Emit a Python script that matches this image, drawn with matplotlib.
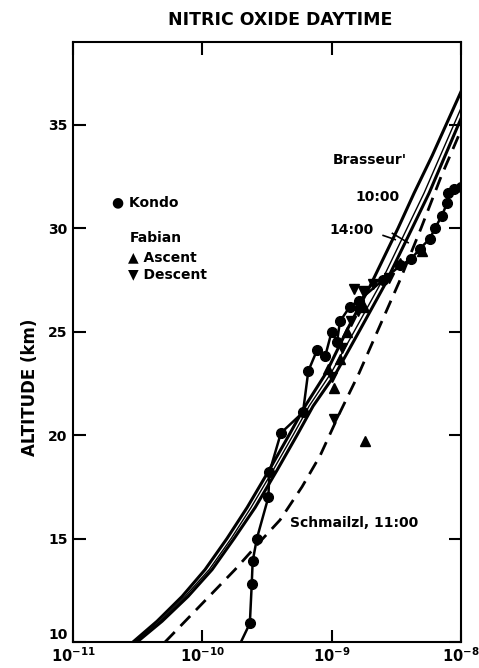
import matplotlib
matplotlib.use("Agg")
import matplotlib.pyplot as plt

plt.rcParams['font.family'] = ['DejaVu Sans']
plt.rcParams['font.weight'] = 'bold'
plt.rcParams['mathtext.default'] = 'bf'

# Brasseur model profiles (altitude km, NO mixing ratio)
b10_alt = [10, 11, 12.2, 13.5, 15, 16.5, 18.3, 20, 21.4, 23, 25.1, 27.2, 30, 31.7, 33.5, 36.6]
b10_x = [2.91e-11, 4.46e-11, 6.97e-11, 1.05e-10, 1.55e-10, 2.22e-10, 3.28e-10, 4.68e-10,
         6.23e-10, 9.05e-10, 1.32e-9, 1.98e-9, 3.26e-9, 4.34e-9, 5.98e-9, 1.0e-8]
thin_alt = [10, 11, 12.2, 13.5, 15, 16.5, 18.3, 20, 21.4, 23, 25.1, 27.2, 30, 31.7, 35.8]
thin_x = [3.02e-11, 4.71e-11, 7.35e-11, 1.13e-10, 1.67e-10, 2.38e-10, 3.52e-10, 5.03e-10,
          6.69e-10, 9.89e-10, 1.52e-9, 2.33e-9, 3.83e-9, 5.18e-9, 1.0e-8]
b14_alt = [10, 11, 12.2, 13.5, 15, 16.5, 18.3, 20, 21.4, 23, 25.1, 27.2, 30, 31.7, 35.3]
b14_x = [3.13e-11, 4.88e-11, 7.75e-11, 1.19e-10, 1.76e-10, 2.56e-10, 3.78e-10, 5.40e-10,
         7.18e-10, 1.08e-9, 1.66e-9, 2.54e-9, 4.19e-9, 5.67e-9, 1.0e-8]

# Schmailzl 11:00 (dashed)
sch_alt = [10, 11.4, 13.5, 14.9, 15.9, 17.5, 19, 21.1, 23, 25.1, 27.5, 30, 32.5, 34.3, 35]
sch_x = [5.15e-11, 8.48e-11, 1.79e-10, 2.84e-10, 3.99e-10, 5.90e-10, 8.13e-10, 1.16e-9,
         1.63e-9, 2.29e-9, 3.38e-9, 4.91e-9, 7.02e-9, 9.33e-9, 1.04e-8]

# Kondo measurements
kondo_alt = [9.5, 10.9, 12.8, 13.9, 15.0, 17.0, 18.2, 20.1, 21.1, 23.1, 24.1, 23.8, 25.0, 24.5,
             25.5, 26.2, 26.5, 27.5, 28.2, 28.5, 29.0, 29.5, 30.0, 30.6, 31.2, 31.7, 31.9, 32.0]
kondo_x = [1.82e-10, 2.33e-10, 2.41e-10, 2.45e-10, 2.64e-10, 3.24e-10, 3.3e-10, 4.05e-10, 6.0e-10,
           6.6e-10, 7.7e-10, 8.9e-10, 1.0e-9, 1.1e-9, 1.16e-9, 1.38e-9, 1.62e-9, 2.5e-9, 3.4e-9,
           4.1e-9, 4.8e-9, 5.75e-9, 6.3e-9, 7.1e-9, 7.8e-9, 7.9e-9, 8.9e-9, 1.0e-8]

# Fabian balloon data
asc_alt = [19.7, 22.3, 23.2, 23.7, 25.0, 26.2, 28.3, 28.9]
asc_x = [1.82e-9, 1.05e-9, 9.3e-10, 1.15e-9, 1.32e-9, 1.78e-9, 3.4e-9, 5.0e-9]
desc_alt = [20.8, 22.8, 24.2, 25.5, 26.0, 27.05, 26.96, 27.3, 27.6]
desc_x = [1.05e-9, 1.0e-9, 1.2e-9, 1.4e-9, 1.6e-9, 1.48e-9, 1.74e-9, 2.1e-9, 2.8e-9]

yticks = [10, 15, 20, 25, 30, 35]
xticks = [1e-11, 1e-10, 1e-9, 1e-8]
xlabels = ['$10^{-11}$', '$10^{-10}$', '$10^{-9}$', '$10^{-8}$']

fig = plt.figure(figsize=(4.79, 6.68), dpi=100)
ax = fig.add_axes([73 / 479, 26 / 668, 388 / 479, 600 / 668])

ax.plot(b10_x, b10_alt, color='black', lw=2.2)
ax.plot(thin_x, thin_alt, color='black', lw=1.0)
ax.plot(b14_x, b14_alt, color='black', lw=2.2)
ax.plot(sch_x, sch_alt, color='black', lw=2.0, dashes=(5, 3))
ax.plot(kondo_x, kondo_alt, color='black', lw=1.8, marker='o', ms=7)
ax.plot(asc_x, asc_alt, ls='none', color='black', marker='^', ms=7)
ax.plot(desc_x, desc_alt, ls='none', color='black', marker='v', ms=7)

ax.set_xscale('log')
ax.set_xlim(1e-11, 1e-8)
ax.set_ylim(10, 39)
ax.set_xticks(xticks)
ax.set_xticklabels(xlabels)
ax.set_yticks(yticks)
ax.minorticks_off()
ax.tick_params(direction='in', length=9, width=1.5, top=True, right=True,
               labelsize=10, pad=4)
ax.tick_params(axis='x', labelsize=10.5, pad=3)
ax.yaxis.get_major_ticks()[0].label1.set_verticalalignment('bottom')
for s in ax.spines.values():
    s.set_linewidth(1.5)

tk = dict(fontsize=10, fontweight='bold', transform=ax.transAxes, va='center')
ax.text(0.10, 0.732, '● Kondo', **tk)
ax.text(0.147, 0.673, 'Fabian', **tk)
ax.text(0.142, 0.642, '▲ Ascent', **tk)
ax.text(0.142, 0.613, '▼ Descent', **tk)
ax.text(0.67, 0.803, "Brasseur'", **tk)
ax.text(0.727, 0.742, '10:00', **tk)
ax.text(0.662, 0.687, '14:00', **tk)
ax.text(0.559, 0.198, 'Schmailzl, 11:00', **tk)

# leader from the 14:00 label to the curves
ax.plot([2.5e-9, 3.1e-9], [29.65, 29.45], color='black', lw=1.2)
ax.plot([2.95e-9, 3.9e-9], [29.75, 29.3], color='black', lw=1.2)

fig.text(280 / 479, 1 - 20 / 668, 'NITRIC OXIDE DAYTIME', ha='center', va='center',
         fontsize=12.5, fontweight='bold')
fig.text(30 / 479, 1 - 387 / 668, 'ALTITUDE (km)', ha='center', va='center',
         rotation=90, fontsize=12, fontweight='bold')

fig.savefig('out.png', dpi=100)
